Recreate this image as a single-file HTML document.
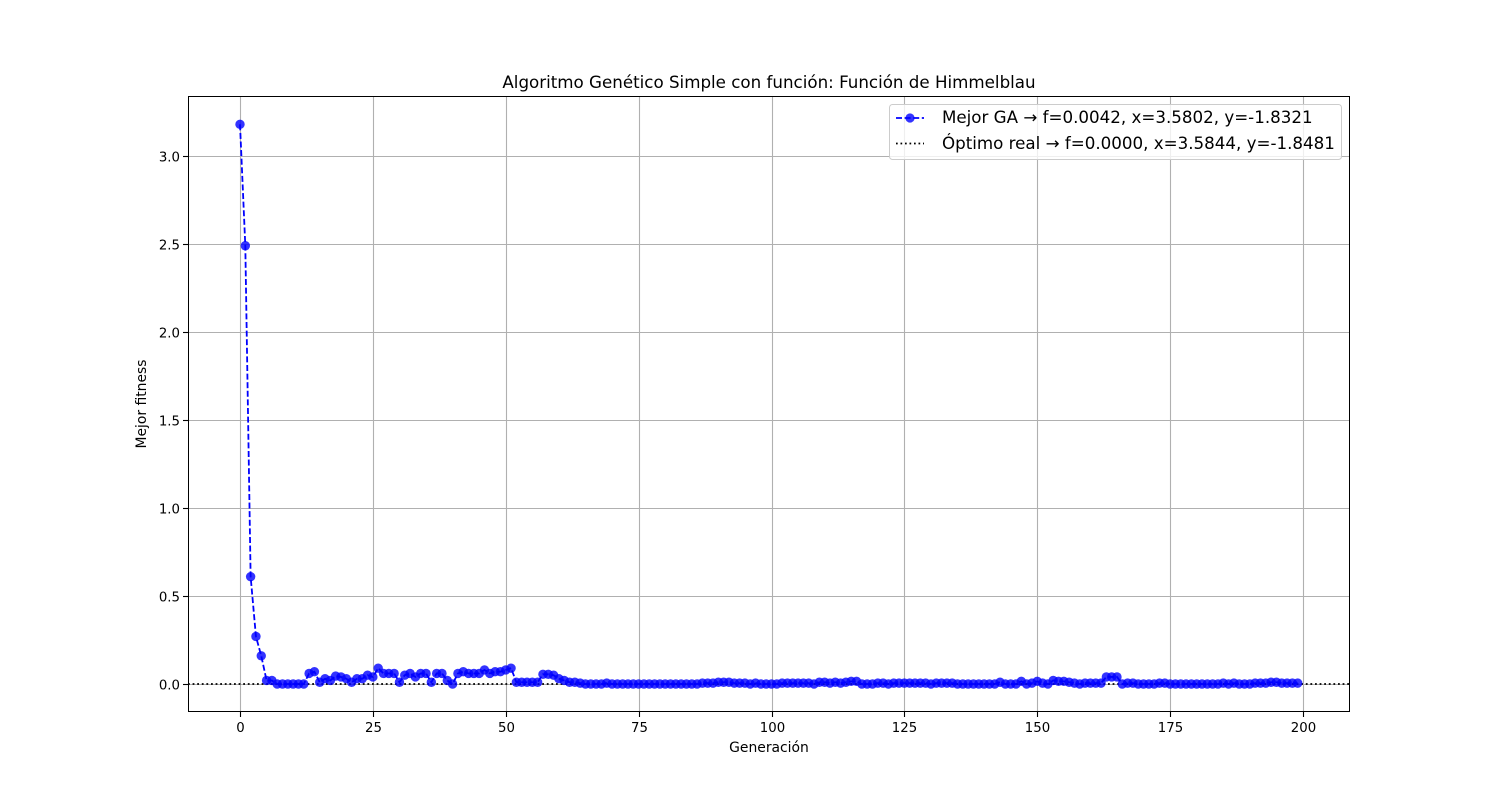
<!DOCTYPE html>
<html><head><meta charset="utf-8"><style>
body{margin:0;background:#fff;}
svg text{font-family:"DejaVu Sans","Liberation Sans",sans-serif;}
</style></head><body>
<svg id="chart" width="1500" height="800">
<rect width="1500" height="800" fill="#fff"/>
<text x="769" y="88" font-size="16.7" text-anchor="middle">Algoritmo Genético Simple con función: Función de Himmelblau</text>
<g id="grid"></g>
<g id="ticks"></g>
<g id="marks"></g>
<rect x="188.5" y="96.5" width="1161" height="615" fill="none" stroke="#000" stroke-width="1"/>
<text x="769" y="752" font-size="13.9" text-anchor="middle">Generación</text>
<text x="146" y="404" font-size="13.9" text-anchor="middle" transform="rotate(-90 146 404)">Mejor fitness</text>
<g>
<rect x="889.5" y="104.5" width="452" height="55" rx="3" fill="#fff" fill-opacity="0.8" stroke="#ccc"/>
<line x1="896" y1="118" x2="924" y2="118" stroke="#0000ff" stroke-width="1.7" stroke-dasharray="6,2.6"/>
<circle cx="910" cy="118" r="4.6" fill="rgba(0,0,255,0.8)"/>
<text x="942" y="123" font-size="16.7">Mejor GA → f=0.0042, x=3.5802, y=-1.8321</text>
<line x1="896" y1="143.5" x2="924" y2="143.5" stroke="#000" stroke-width="1.7" stroke-dasharray="1.7,2.8"/>
<text x="942" y="149" font-size="16.7">Óptimo real → f=0.0000, x=3.5844, y=-1.8481</text>
</g>
</svg>
<script>
const xTicks=[0,25,50,75,100,125,150,175,200];
const yTicks=[0,0.5,1.0,1.5,2.0,2.5,3.0];
const yTickLabels=["0.0","0.5","1.0","1.5","2.0","2.5","3.0"];
const optimum=0.0;
const fitness=[3.18,2.49,0.61,0.27,0.16,0.02,0.02,0.0,0.0,0.0,0.0,0.0,0.0,0.06,0.07,0.01,0.03,0.02,0.045,0.04,
0.03,0.01,0.03,0.03,0.05,0.04,0.09,0.06,0.06,0.06,0.01,0.05,0.06,0.04,0.06,0.06,0.01,0.06,0.06,0.02,
0.0,0.06,0.07,0.06,0.06,0.06,0.08,0.06,0.07,0.07,0.08,0.09,0.01,0.01,0.01,0.01,0.01,0.055,0.055,0.05,
0.03,0.02,0.01,0.01,0.005,0.0,0.0,0.0,0.0,0.005,0.0,0.0,0.0,0.0,0.0,0.0,0.0,0.0,0.0,0.0,
0.0,0.0,0.0,0.0,0.0,0.0,0.0,0.005,0.005,0.005,0.01,0.01,0.01,0.005,0.005,0.005,0.0,0.005,0.0,0.0,
0.0,0.0,0.005,0.005,0.005,0.005,0.005,0.005,0.0,0.01,0.01,0.005,0.01,0.005,0.01,0.015,0.015,0.0,0.0,0.0,
0.005,0.005,0.0,0.005,0.005,0.005,0.005,0.005,0.005,0.005,0.0,0.005,0.005,0.005,0.005,0.0,0.0,0.0,0.0,0.0,
0.0,0.0,0.0,0.01,0.0,0.0,0.0,0.015,0.0,0.005,0.015,0.005,0.0,0.02,0.015,0.015,0.01,0.005,0.0,0.005,
0.005,0.005,0.005,0.04,0.04,0.04,0.0,0.005,0.005,0.0,0.0,0.0,0.0,0.005,0.005,0.0,0.0,0.0,0.0,0.0,
0.0,0.0,0.0,0.0,0.0,0.005,0.0,0.005,0.0,0.0,0.0,0.005,0.005,0.005,0.01,0.01,0.005,0.005,0.005,0.005];
const NS="http://www.w3.org/2000/svg";
const X0=188,X1=1350,Y0=96,Y1=712;
function xs(v){return 240+v*(1303-240)/200;}
function ys(v){return 684-v*176;}
function mk(tag,attrs,parent){const e=document.createElementNS(NS,tag);for(const k in attrs)e.setAttribute(k,attrs[k]);parent.appendChild(e);return e;}
const grid=document.getElementById('grid'),ticks=document.getElementById('ticks'),marks=document.getElementById('marks');
xTicks.forEach(t=>{const x=Math.round(xs(t))+0.5;
 const g=mk('line',{x1:x,y1:Y0,x2:x,y2:Y1,stroke:'#b0b0b0','stroke-width':1.1},grid);
 
 
 mk('line',{x1:x,y1:Y1,x2:x,y2:Y1+5,stroke:'#000','stroke-width':1.1},ticks);
 const tx=mk('text',{x:x,y:Y1+20,'font-size':13.3,'text-anchor':'middle'},ticks);tx.textContent=t;
 
 
});
yTicks.forEach((t,i)=>{const y=Math.round(ys(t))+0.5;
 const g=mk('line',{x1:X0,y1:y,x2:X1,y2:y,stroke:'#b0b0b0','stroke-width':1.1},grid);
 
 
 mk('line',{x1:X0-5,y1:y,x2:X0,y2:y,stroke:'#000','stroke-width':1.1},ticks);
 const tx=mk('text',{x:X0-8,y:y+5,'font-size':13.3,'text-anchor':'end'},ticks);tx.textContent=yTickLabels[i];
 
 
});
const opt=mk('line',{x1:X0,y1:ys(optimum),x2:X1,y2:ys(optimum),stroke:'#000','stroke-width':1.8,'stroke-dasharray':'1.8,2.8'},marks);


const pts=fitness.map((v,i)=>xs(i).toFixed(2)+','+ys(v).toFixed(2)).join(' ');
const pl=mk('polyline',{points:pts,fill:'none',stroke:'#0000ff','stroke-width':1.8,'stroke-dasharray':'6,2.6'},marks);


fitness.forEach((v,i)=>{const c=mk('circle',{cx:xs(i),cy:ys(v),r:4.7,fill:'rgba(0,0,255,0.8)'},marks);
 
 
});
</script>
</body></html>
